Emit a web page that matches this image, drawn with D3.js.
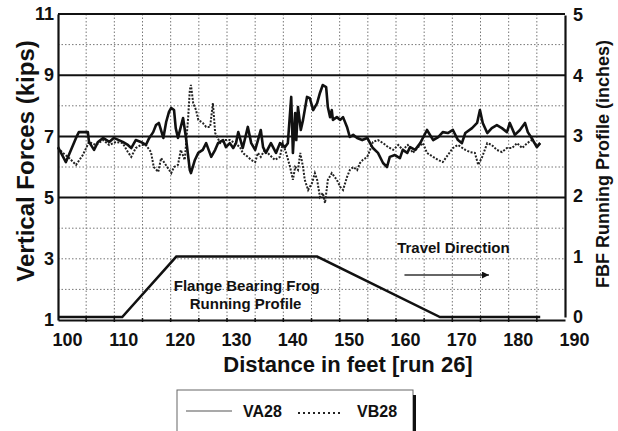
<!DOCTYPE html>
<html>
<head>
<meta charset="utf-8">
<script src="https://cdn.jsdelivr.net/npm/d3@7"></script>
<style>
  body { margin: 0; background: #fff; }
  text { font-family: "Liberation Sans", Arial, sans-serif; font-weight: bold; fill: #111; }
</style>
</head>
<body>
<div id="chart"></div>
<script>
// distance in feet for each sample, and vertical forces (kips)
const vaFeet = [100, 101.4, 103.2, 103.7, 105.3, 105.5, 106.4, 107.1, 108.0, 109.1, 109.9, 111.5, 112.4, 113.0, 113.8, 114.7, 115.6, 116.2, 116.9, 117.4, 117.9, 118.7, 119.2, 119.7, 120.1, 120.6, 120.9, 121.3, 122.2, 122.7, 123.4, 123.6, 124.3, 124.9, 125.7, 126.3, 127.2, 127.9, 128.4, 129.3, 129.8, 130.5, 131.1, 131.6, 132.0, 132.8, 133.7, 134.3, 135.0, 135.5, 136.0, 136.4, 136.9, 137.8, 138.7, 139.4, 140.3, 140.8, 141.4, 141.7, 142.1, 142.3, 142.6, 143.1, 143.5, 144.2, 144.7, 145.3, 146.0, 146.5, 147.0, 147.6, 147.9, 148.3, 148.6, 148.8, 149.5, 150.1, 150.6, 151.3, 151.8, 152.4, 153.1, 154.0, 154.9, 155.4, 155.9, 156.8, 157.7, 158.4, 158.9, 159.8, 160.7, 161.2, 162.0, 162.5, 163.4, 164.3, 165.5, 166.6, 167.5, 168.3, 169.2, 170.1, 171.0, 171.7, 172.3, 173.5, 174.4, 174.9, 175.4, 176.2, 177.0, 177.9, 178.8, 179.7, 180.2, 181.1, 182.0, 182.9, 183.4, 184.3, 185.0, 185.6]
const va28 = [6.65, 6.16, 6.95, 7.14, 7.14, 6.82, 6.56, 6.82, 6.95, 6.82, 6.95, 6.82, 6.72, 6.62, 6.88, 6.82, 6.72, 6.95, 7.14, 7.37, 7.44, 6.95, 7.47, 7.80, 7.93, 7.86, 7.27, 6.95, 7.60, 6.98, 5.90, 5.80, 6.23, 6.46, 6.56, 6.78, 6.33, 6.56, 6.78, 6.88, 6.65, 6.78, 6.62, 6.78, 7.14, 6.62, 7.31, 6.78, 6.56, 6.88, 7.21, 6.65, 6.46, 6.78, 6.46, 6.78, 6.65, 6.78, 8.29, 6.46, 7.76, 6.88, 7.96, 7.21, 7.54, 8.29, 8.25, 7.86, 8.09, 8.42, 8.68, 8.61, 7.96, 7.63, 7.86, 7.54, 7.63, 7.54, 7.63, 7.31, 6.98, 7.05, 6.95, 6.88, 6.95, 6.78, 6.62, 6.46, 6.13, 6.00, 6.33, 6.39, 6.29, 6.56, 6.46, 6.65, 6.56, 6.78, 7.21, 6.88, 6.98, 7.14, 7.11, 7.21, 6.88, 6.78, 7.11, 7.27, 7.44, 7.86, 7.44, 7.11, 7.27, 7.37, 7.27, 7.14, 7.44, 7.05, 7.21, 7.44, 7.14, 6.88, 6.65, 6.78]

const vbFeet = [100, 100.9, 102.0, 103.2, 104.4, 105.0, 105.5, 106.7, 108.0, 109.1, 110.3, 111.5, 112.4, 113.0, 113.8, 114.7, 115.6, 116.5, 117.0, 117.8, 118.3, 118.8, 119.5, 120.1, 120.6, 121.3, 121.8, 122.5, 123.1, 123.4, 123.6, 124.0, 124.5, 124.9, 125.7, 126.3, 127.0, 127.5, 127.9, 128.8, 129.6, 130.5, 131.4, 132.3, 132.8, 133.7, 134.3, 135.0, 135.5, 136.0, 136.7, 137.6, 138.5, 139.4, 139.9, 140.5, 141.2, 141.7, 142.1, 142.6, 143.0, 143.5, 143.8, 144.4, 145.1, 145.6, 146.0, 146.5, 147.0, 147.4, 147.9, 148.6, 149.5, 150.1, 150.6, 151.3, 151.8, 152.4, 153.1, 153.6, 154.1, 154.9, 155.4, 155.9, 156.8, 157.7, 158.6, 159.5, 160.4, 161.2, 162.1, 163.0, 163.9, 164.8, 165.5, 166.6, 167.5, 168.3, 169.2, 170.1, 171.0, 172.3, 173.1, 174.0, 174.6, 175.3, 176.2, 177.0, 177.9, 178.8, 179.7, 180.6, 181.5, 182.4, 183.3, 184.1, 185.0, 185.6]
const vb28 = [6.62, 6.46, 6.29, 6.07, 6.39, 6.62, 6.82, 6.72, 6.88, 6.72, 6.82, 6.78, 6.49, 6.33, 6.62, 6.72, 6.72, 6.49, 6.00, 5.84, 6.29, 6.16, 5.97, 5.80, 6.00, 6.07, 6.56, 6.23, 7.60, 8.52, 8.68, 8.09, 7.86, 7.54, 7.44, 7.31, 7.31, 8.09, 7.11, 6.78, 6.88, 6.88, 6.78, 6.65, 6.46, 6.33, 6.23, 6.16, 6.46, 6.33, 6.56, 6.39, 6.23, 6.33, 6.78, 6.46, 6.00, 5.58, 6.00, 5.90, 6.46, 6.00, 5.58, 5.25, 5.48, 5.80, 5.58, 5.02, 5.15, 4.82, 5.58, 5.80, 5.58, 5.35, 5.25, 5.67, 5.90, 6.00, 5.90, 6.13, 6.23, 6.33, 6.56, 6.82, 6.88, 6.78, 6.65, 6.56, 6.72, 6.56, 6.72, 6.46, 6.65, 6.78, 6.46, 6.33, 6.23, 6.16, 6.39, 6.62, 6.72, 6.56, 6.49, 6.46, 6.07, 6.33, 6.78, 6.72, 6.56, 6.49, 6.62, 6.62, 6.78, 6.62, 6.78, 6.88, 6.72, 6.78]

// flange bearing frog running profile (inches)
const profileFeet = [100, 111.4, 121, 146, 167.8, 185.6]
const profileInches = [0, 0, 1, 1, 0, 0]

const xTicks = [100, 110, 120, 130, 140, 150, 160, 170, 180, 190]
const leftTicks = [1, 3, 5, 7, 9, 11]
const rightTicks = [0, 1, 2, 3, 4, 5]

const width = 618
const height = 431
const margin = {top: 14, right: 53, bottom: 111, left: 58}
const innerW = width - margin.left - margin.right
const innerH = height - margin.top - margin.bottom

const svg = d3.select("div#chart").append("svg").attr("width", width).attr("height", height)

const x = d3.scaleLinear().domain([100, 190]).range([0, innerW])
const y = d3.scaleLinear().domain([1, 11]).range([innerH, 0])
const yProfile = d3.scaleLinear().domain([0, 5]).range([innerH - 3, 1])

const g = svg.append("g").attr("transform", `translate(${margin.left},${margin.top})`)

// dotted grid
const gridG = g.append("g").attr("class", "grid")
gridG.selectAll(".vgrid").data(d3.range(105, 190, 5)).enter().append("line")
    .attr("x1", d => x(d)).attr("x2", d => x(d))
    .attr("y1", 0).attr("y2", innerH)
    .style("stroke", "#777").style("stroke-width", 1).style("stroke-dasharray", "1.5,2")
gridG.selectAll(".hgrid").data([2, 3, 4, 6, 8, 10]).enter().append("line")
    .attr("x1", 0).attr("x2", innerW)
    .attr("y1", d => y(d)).attr("y2", d => y(d))
    .style("stroke", "#777").style("stroke-width", 1).style("stroke-dasharray", "1.5,2")

// solid reference lines
g.selectAll(".ref").data([5, 7, 9, 11]).enter().append("line")
    .attr("x1", 0).attr("x2", innerW)
    .attr("y1", d => y(d)).attr("y2", d => y(d))
    .style("stroke", "#111").style("stroke-width", 2)

// axes
const xAxis = d3.axisBottom(x).tickValues(xTicks).tickSize(0).tickPadding(13)
const yAxis = d3.axisLeft(y).tickValues(leftTicks).tickSize(0).tickPadding(4)
const yAxisR = d3.axisRight(yProfile).tickValues(rightTicks).tickSize(0).tickPadding(8).tickFormat(d3.format("d"))

const xAxisGroup = g.append("g").attr("transform", `translate(0,${innerH})`).call(xAxis)
xAxisGroup.selectAll("text").attr("dx", 9).style("font-size", "18px")
const yAxisGroup = g.append("g").call(yAxis)
yAxisGroup.selectAll("text").style("font-size", "18px")
const yAxisRGroup = g.append("g").attr("transform", `translate(${innerW},0)`).call(yAxisR)
yAxisRGroup.selectAll("text").style("font-size", "18px")
g.selectAll(".domain").style("stroke", "#111").style("stroke-width", 2.2)

// small tick dots on bottom axis
g.selectAll(".xdot").data(d3.range(105, 190, 5)).enter().append("line")
    .attr("x1", d => x(d)).attr("x2", d => x(d))
    .attr("y1", innerH - 2).attr("y2", innerH + 2)
    .style("stroke", "#111").style("stroke-width", 1.5)

// running profile
const profileLine = d3.line().x(d => x(d[0])).y(d => yProfile(d[1]))
g.append("path")
    .datum(d3.zip(profileFeet, profileInches))
    .attr("d", profileLine)
    .style("fill", "none").style("stroke", "#111").style("stroke-width", 2.5)

// force series
const line = d3.line().x(d => x(d[0])).y(d => y(d[1]))
g.append("path")
    .datum(d3.zip(vbFeet, vb28))
    .attr("d", line)
    .style("fill", "none").style("stroke", "#222").style("stroke-width", 2)
    .style("stroke-dasharray", "2,1.5")
g.append("path")
    .datum(d3.zip(vaFeet, va28))
    .attr("d", line)
    .style("fill", "none").style("stroke", "#111").style("stroke-width", 2.6)
    .style("stroke-linejoin", "round")

// annotations
g.append("text").attr("x", x(133.5)).attr("y", 277).attr("text-anchor", "middle")
    .style("font-size", "15px").text("Flange Bearing Frog")
g.append("text").attr("x", x(133.3)).attr("y", 295).attr("text-anchor", "middle")
    .style("font-size", "15px").text("Running Profile")
g.append("text").attr("x", x(160.2)).attr("y", 239).attr("text-anchor", "start")
    .style("font-size", "15px").text("Travel Direction")

svg.append("defs").append("marker")
    .attr("id", "arrow").attr("viewBox", "0 0 10 10").attr("refX", 10).attr("refY", 5)
    .attr("markerWidth", 10).attr("markerHeight", 7).attr("orient", "auto")
    .attr("markerUnits", "userSpaceOnUse")
    .append("path").attr("d", "M0,0 L10,5 L0,10 Z").style("fill", "#111")
g.append("line")
    .attr("x1", x(161.5)).attr("x2", x(176.5)).attr("y1", 261).attr("y2", 261)
    .style("stroke", "#333").style("stroke-width", 1.3)
    .attr("marker-end", "url(#arrow)")

// axis titles
svg.append("text")
    .attr("transform", `translate(34,161) rotate(-90)`)
    .attr("text-anchor", "middle").style("font-size", "24px")
    .text("Vertical Forces (kips)")
svg.append("text")
    .attr("transform", `translate(609,164) rotate(-90)`)
    .attr("text-anchor", "middle").style("font-size", "18px")
    .text("FBF Running Profile (inches)")
svg.append("text")
    .attr("x", 348).attr("y", 372).attr("text-anchor", "middle").style("font-size", "22px")
    .text("Distance in feet [run 26]")

// legend
const legend = svg.append("g").attr("transform", "translate(177,390)")
legend.append("rect").attr("x", 0).attr("y", 0).attr("width", 236).attr("height", 50)
    .style("fill", "#fff").style("stroke", "#666").style("stroke-width", 1)
legend.append("line").attr("x1", 237.5).attr("x2", 237.5).attr("y1", 5).attr("y2", 50)
    .style("stroke", "#111").style("stroke-width", 3)
legend.append("line").attr("x1", 9).attr("x2", 55).attr("y1", 21).attr("y2", 21)
    .style("stroke", "#555").style("stroke-width", 1.2)
legend.append("text").attr("x", 66).attr("y", 27).style("font-size", "16px").text("VA28")
legend.append("line").attr("x1", 121).attr("x2", 163).attr("y1", 23).attr("y2", 23)
    .style("stroke", "#222").style("stroke-width", 2).style("stroke-dasharray", "2,3")
legend.append("text").attr("x", 180).attr("y", 27).style("font-size", "16px").text("VB28")
</script>
</body>
</html>
